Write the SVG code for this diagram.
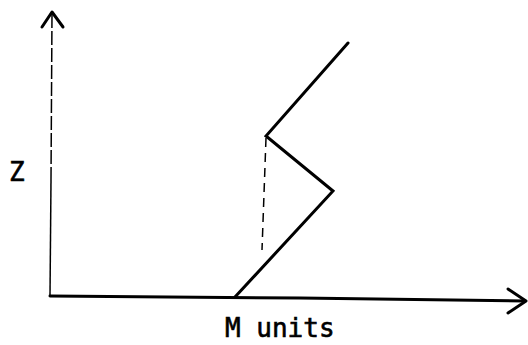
<svg xmlns="http://www.w3.org/2000/svg" width="528" height="345" viewBox="0 0 528 345">
<style>
.ax{fill:none;stroke:#000;stroke-width:3;stroke-linecap:round;stroke-linejoin:round}
.thin{fill:none;stroke:#000;stroke-width:1.5}
.ln{fill:none;stroke:#000;stroke-width:3;stroke-linejoin:miter;stroke-linecap:round}
.lbl{font-family:"DejaVu Sans Mono","Liberation Mono",monospace;font-size:26px;fill:#000;stroke:#000;stroke-width:0.6}
</style>
<rect width="528" height="345" fill="#fff"/>
<g id="axes">
<path class="thin" d="M52,14 L51,180" stroke-dasharray="14,3"/>
<path class="thin" d="M51,180 L50,296"/>
<path class="ax" d="M42,27 L52,12 L63,27"/>
<path class="ax" d="M50,296 L300,298 L525,301"/>
<path class="ax" d="M508,289 L526,301 L508,313"/>
</g>
<g id="curve">
<path class="ln" d="M348,43 L266,136 L333,191 L235,297"/>
<path class="thin" d="M266,138 L262,250" stroke-dasharray="9,6"/>
</g>
<g id="labels">
<text class="lbl" x="9" y="181">Z</text>
<text class="lbl" x="225" y="337">M units</text>
</g>
</svg>
